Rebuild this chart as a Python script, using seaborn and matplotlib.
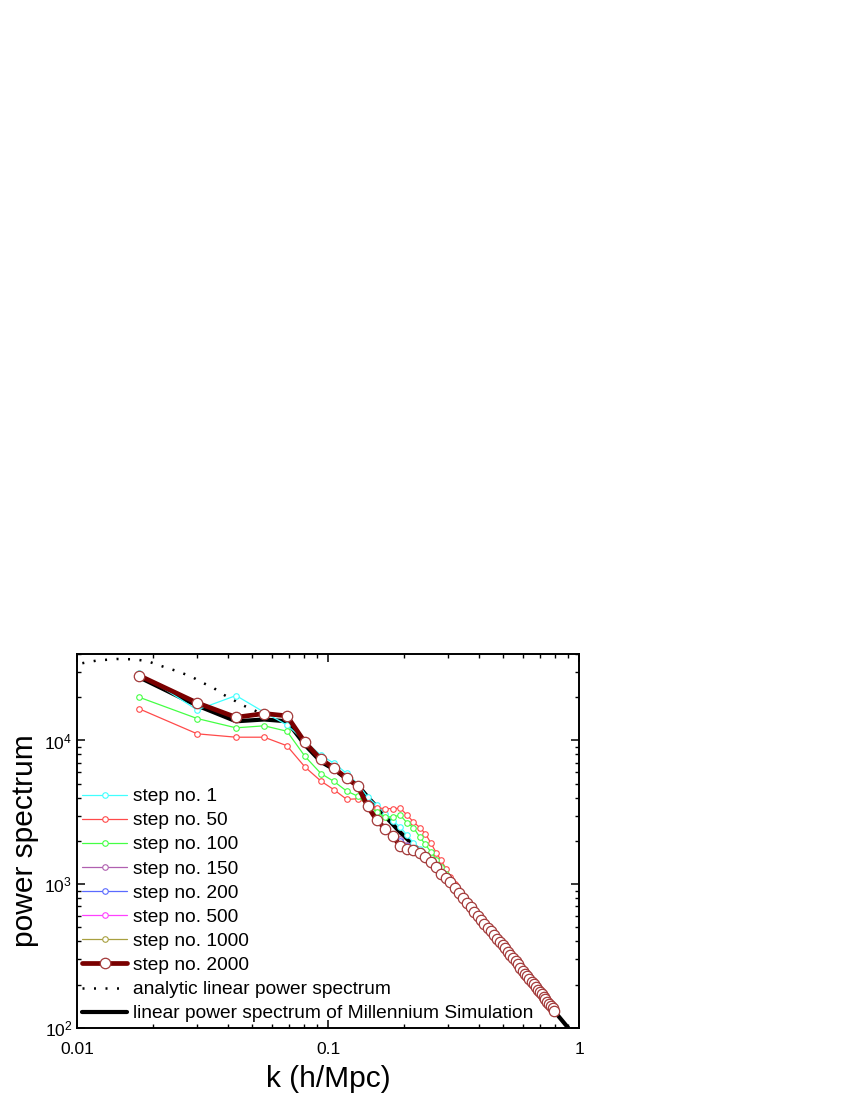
import matplotlib
matplotlib.use('Agg')
import matplotlib.pyplot as plt
import seaborn as sns

sns.set_style('ticks')
plt.rcParams['font.family'] = ['Liberation Sans', 'DejaVu Sans']
plt.rcParams['mathtext.fontset'] = 'custom'
plt.rcParams['mathtext.rm'] = 'Liberation Sans'
plt.rcParams['mathtext.it'] = 'Liberation Sans:italic'
for key in ['text.color', 'axes.labelcolor', 'xtick.color', 'ytick.color']:
    plt.rcParams[key] = 'black'

# k bins of the measured spectra (h/Mpc)
k_bins = [0.0177, 0.0301, 0.0430, 0.0557, 0.0686, 0.0810, 0.0938, 0.1056, 0.1187,
          0.1313, 0.1439, 0.1565, 0.1690, 0.1816, 0.1940, 0.2067, 0.2190, 0.2320,
          0.2440, 0.2570, 0.2700, 0.2820, 0.2950, 0.3070, 0.3200, 0.3320, 0.3450]

p_step1 = [29500, 16330, 20540, 15720, 12800, 9900, 7870, 6950, 5900, 5000, 4040, 3540,
           3100, 2750, 2500, 2190, 1936, 1750, 1580, 1420, 1290, 1180, 1090, 1030, 942, 871, 802]
p_step50 = [16600, 11130, 10540, 10540, 9190, 6530, 5210, 4545, 3893, 3930, 3650, 3400,
            3357, 3357, 3380, 3020, 2710, 2478, 2250, 1936, 1650, 1468, 1285, 1130, 1000, 885, 805]
p_step100 = [19990, 14220, 12250, 12650, 11600, 7740, 5880, 5190, 4445, 4100, 3550, 3178,
             2930, 2950, 3020, 2668, 2478, 2130, 1895, 1676, 1485, 1320, 1186, 1060, 960, 875, 802]
p_step150 = [28400, 18200, 14500, 15300, 14700, 9700, 7400, 6450, 5480, 4830, 3600, 2900,
             2500, 2200, 2080, 1880, 1780, 1660, 1560, 1440, 1330, 1190, 1100, 1035, 945, 872, 803]
p_step200 = [28300, 18250, 14500, 15350, 14750, 9700, 7390, 6440, 5475, 4825, 3560, 2850,
             2470, 2180, 2000, 1850, 1760, 1650, 1555, 1435, 1325, 1188, 1098, 1032, 943, 871, 802]
p_step500 = [28280, 18270, 14500, 15380, 14800, 9690, 7385, 6435, 5470, 4822, 3520, 2810,
             2450, 2165, 1900, 1820, 1745, 1645, 1552, 1432, 1320, 1186, 1097, 1031, 942, 871, 802]
p_step1000 = [28270, 18270, 14500, 15400, 14820, 9690, 7380, 6430, 5470, 4820, 3490, 2790,
              2440, 2158, 1850, 1780, 1725, 1642, 1551, 1431, 1319, 1185, 1096, 1030, 942, 871, 802]
p_step2000 = [28270, 18270, 14500, 15400, 14830, 9690, 7380, 6430, 5470, 4820, 3480, 2783,
              2437, 2154, 1836, 1770, 1720, 1640, 1550, 1430, 1318, 1185, 1096, 1030, 942, 871, 802]

# high-k tail of step no. 2000 and of the linear spectrum
k_tail = [0.357, 0.370, 0.383, 0.395, 0.408, 0.420, 0.433, 0.445, 0.458, 0.471, 0.483, 0.496,
          0.508, 0.521, 0.533, 0.546, 0.559, 0.571, 0.584, 0.596, 0.609, 0.621, 0.634, 0.647,
          0.659, 0.672, 0.684, 0.697, 0.709, 0.722, 0.735, 0.747, 0.760, 0.772, 0.785, 0.797]
p_tail = [745, 692, 643, 603, 565, 531, 499, 472, 445, 419, 398, 377, 358, 339, 323, 306,
          290, 277, 263, 251, 239, 229, 219, 209, 201, 192, 185, 178, 171, 164, 158, 152,
          147, 142, 137, 131]

# linear power spectrum of the Millennium Simulation
k_lin = [0.0177, 0.0301, 0.0430, 0.0557, 0.0686, 0.0810, 0.0938, 0.1056, 0.1187, 0.1316,
         0.1447, 0.1587, 0.1739, 0.1905, 0.2058, 0.2221, 0.2397, 0.2549, 0.2710, 0.2850,
         0.2950, 0.3070, 0.3200, 0.3320, 0.3450]
p_lin = [27500, 17500, 13600, 14000, 13600, 9300, 7100, 6300, 5400, 4870, 4000, 3357, 2813,
         2371, 2076, 1836, 1634, 1468, 1334, 1200, 1096, 1030, 942, 871, 802]
k_lin_end = [0.906]
p_lin_end = [100]

# analytic linear power spectrum
k_ana = [0.0105, 0.0120, 0.0144, 0.0170, 0.0192, 0.0214, 0.0250, 0.0286, 0.0314, 0.0350,
         0.0383, 0.0419, 0.0460, 0.0511, 0.0587, 0.0660, 0.0750, 0.0850]
p_ana = [34500, 36000, 36900, 36700, 35500, 33200, 30400, 27800, 25400, 23200, 20860,
         19180, 17500, 16150, 14500, 13100, 11200, 9000]

steps = ['step no. 1', 'step no. 50', 'step no. 100', 'step no. 150',
         'step no. 200', 'step no. 500', 'step no. 1000']
thin_values = [p_step1, p_step50, p_step100, p_step150, p_step200, p_step500, p_step1000]
thin_colors = ['#40ffff', '#ff4a4a', '#44ff44', '#b060b0', '#5a6aff', '#ff40ff', '#a8a040']

fig = plt.figure(figsize=(8.5, 11), dpi=100)
ax = fig.add_axes([0.0906, 0.0655, 0.5906, 0.34])

sns.lineplot(x=k_ana, y=p_ana, ax=ax, color='black', lw=1.8, dashes=False,
             linestyle=(0, (0.8, 3.8)), label='analytic linear power spectrum', zorder=2)
sns.lineplot(x=k_lin + k_tail + k_lin_end, y=p_lin + p_tail + p_lin_end, ax=ax,
             color='black', lw=3.0, sort=False, estimator=None,
             label='linear power spectrum of Millennium Simulation', zorder=3)

for name, vals, col in zip(steps, thin_values, thin_colors):
    sns.lineplot(x=k_bins, y=vals, ax=ax, color=col, lw=0.9, marker='o', markersize=4,
                 markerfacecolor='white', markeredgecolor=col, markeredgewidth=0.8,
                 sort=False, estimator=None, label=name, zorder=4)

sns.lineplot(x=k_bins + k_tail, y=p_step2000 + p_tail, ax=ax, color='#7a0000', lw=3.4,
             marker='o', markersize=7.5, markerfacecolor='white', markeredgecolor='#a33a3a',
             markeredgewidth=0.9, sort=False, estimator=None, label='step no. 2000', zorder=5)

ax.set_xscale('log')
ax.set_yscale('log')
ax.set_xlim(0.01, 1)
ax.set_ylim(100, 4e4)
ax.set_xticks([0.01, 0.1, 1], labels=['0.01', '0.1', '1'])
ax.tick_params(which='both', direction='in', top=True, right=True, labelsize=12.5,
               colors='black')
ax.tick_params(which='major', length=6, width=1.1)
ax.tick_params(which='minor', length=3, width=1.0)
ax.tick_params(axis='x', which='major', pad=10)
for sp in ax.spines.values():
    sp.set_linewidth(1.4)
    sp.set_color('black')

ax.set_xlabel('k (h/Mpc)', fontsize=21.5, labelpad=6)
ax.set_ylabel('power spectrum', fontsize=21.5, labelpad=4)

handles, labels = ax.get_legend_handles_labels()
order = steps + ['step no. 2000', 'analytic linear power spectrum',
                 'linear power spectrum of Millennium Simulation']
hmap = dict(zip(labels, handles))
ax.legend([hmap[l] for l in order], order, loc='lower left', bbox_to_anchor=(0.01, 0.015),
          frameon=False, fontsize=13.8, handlelength=2.35, handletextpad=0.3,
          labelspacing=0.35, borderpad=0, borderaxespad=0, labelcolor='black')

fig.savefig('out.png', dpi=100)
